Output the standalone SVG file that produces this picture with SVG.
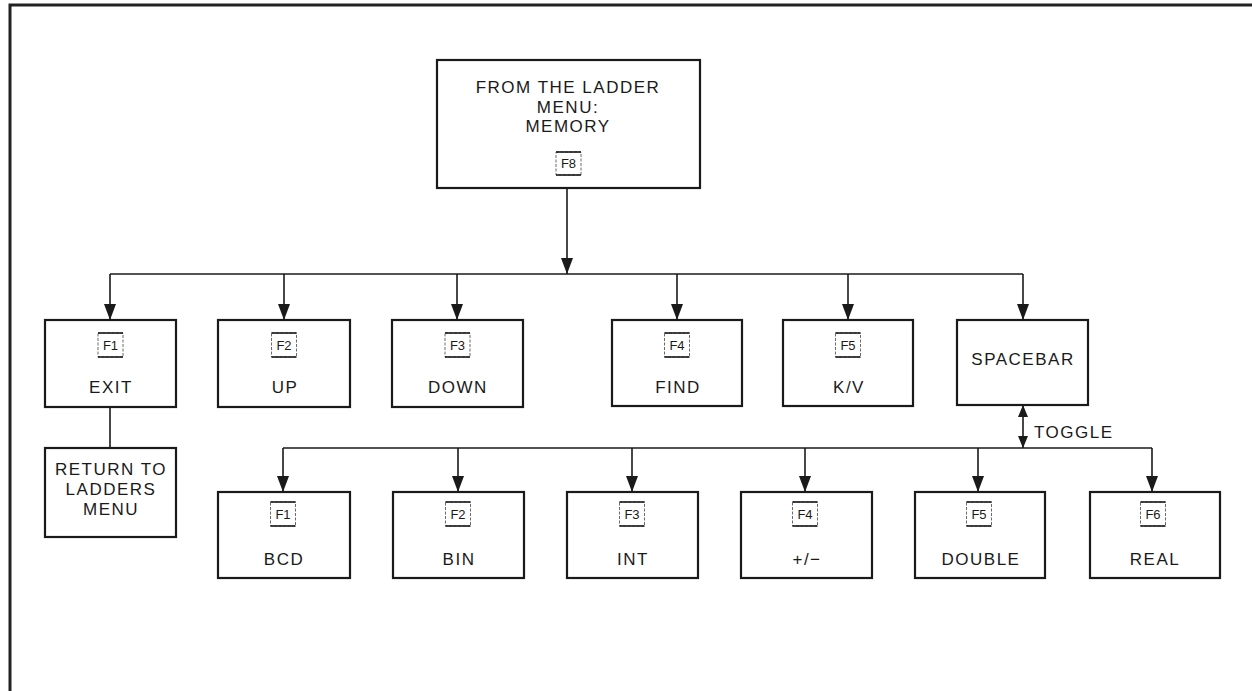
<svg xmlns="http://www.w3.org/2000/svg" width="1252" height="691" viewBox="0 0 1252 691">
<defs>
<style>
.box{fill:#fff;stroke:#1a1a1a;stroke-width:2.2}
.key{fill:none;stroke:#444;stroke-width:0.8;stroke-dasharray:3 1.5}
.keyl{stroke:#1a1a1a;stroke-width:1.6}
.t{font-family:"Liberation Sans",Arial,sans-serif;font-size:17px;letter-spacing:1.5px;fill:#1a1a1a;text-anchor:middle}
.k{font-family:"Liberation Sans",Arial,sans-serif;font-size:13px;fill:#1a1a1a;text-anchor:middle}
.c{fill:none;stroke:#1a1a1a;stroke-width:1.6}
</style>
<marker id="ah" viewBox="0 0 16 12" refX="16" refY="6" markerWidth="16" markerHeight="13" markerUnits="userSpaceOnUse" orient="auto">
<path d="M0,0 L16,6 L0,12 z" fill="#1a1a1a"/>
</marker>
<marker id="as" viewBox="0 0 12 10" refX="12" refY="5" markerWidth="12" markerHeight="10" markerUnits="userSpaceOnUse" orient="auto-start-reverse">
<path d="M0,0 L12,5 L0,10 z" fill="#1a1a1a"/>
</marker>
</defs>
<rect width="1252" height="691" fill="#fff"/>
<path d="M1252,5 H10 V691" fill="none" stroke="#222" stroke-width="3"/>

<g id="connectors">
<line class="c" x1="567" y1="188" x2="567" y2="274" marker-end="url(#ah)"/>
<line class="c" x1="110" y1="274" x2="1023" y2="274"/>
<line class="c" x1="110" y1="274" x2="110" y2="320" marker-end="url(#ah)"/>
<line class="c" x1="284" y1="274" x2="284" y2="320" marker-end="url(#ah)"/>
<line class="c" x1="457" y1="274" x2="457" y2="320" marker-end="url(#ah)"/>
<line class="c" x1="677" y1="274" x2="677" y2="320" marker-end="url(#ah)"/>
<line class="c" x1="848" y1="274" x2="848" y2="320" marker-end="url(#ah)"/>
<line class="c" x1="1023" y1="274" x2="1023" y2="320" marker-end="url(#ah)"/>
<line class="c" x1="110" y1="407" x2="110" y2="448"/>
<line class="c" x1="1023" y1="405" x2="1023" y2="448" marker-start="url(#as)" marker-end="url(#as)"/>
<line class="c" x1="283" y1="448" x2="1152" y2="448"/>
<line class="c" x1="283" y1="448" x2="283" y2="492" marker-end="url(#ah)"/>
<line class="c" x1="458" y1="448" x2="458" y2="492" marker-end="url(#ah)"/>
<line class="c" x1="632" y1="448" x2="632" y2="492" marker-end="url(#ah)"/>
<line class="c" x1="805" y1="448" x2="805" y2="492" marker-end="url(#ah)"/>
<line class="c" x1="978" y1="448" x2="978" y2="492" marker-end="url(#ah)"/>
<line class="c" x1="1152" y1="448" x2="1152" y2="492" marker-end="url(#ah)"/>
<text class="t" x="1034" y="438" style="text-anchor:start">TOGGLE</text>
</g>

<g id="memory">
<rect class="box" x="437" y="60" width="263" height="128"/>
<text class="t" x="568" y="93">FROM THE LADDER</text>
<text class="t" x="568" y="113">MENU:</text>
<text class="t" x="568" y="132">MEMORY</text>
<rect class="key" x="556" y="152" width="25" height="23"/>
<line class="keyl" x1="556" y1="152" x2="581" y2="152"/><line class="keyl" x1="556" y1="175" x2="581" y2="175"/>
<text class="k" x="568.5" y="168">F8</text>
</g>

<g id="exit">
<rect class="box" x="45" y="320" width="131" height="87"/>
<rect class="key" x="98" y="333" width="25" height="24"/>
<line class="keyl" x1="98" y1="333" x2="123" y2="333"/><line class="keyl" x1="98" y1="357" x2="123" y2="357"/>
<text class="k" x="110.5" y="350">F1</text>
<text class="t" x="111" y="393">EXIT</text>
</g>

<g id="return">
<rect class="box" x="45" y="448" width="131" height="89"/>
<text class="t" x="111" y="475">RETURN TO</text>
<text class="t" x="111" y="495">LADDERS</text>
<text class="t" x="111" y="515">MENU</text>
</g>

<g id="up">
<rect class="box" x="218" y="320" width="132" height="87"/>
<rect class="key" x="271.5" y="333" width="25" height="24"/>
<line class="keyl" x1="271.5" y1="333" x2="296.5" y2="333"/><line class="keyl" x1="271.5" y1="357" x2="296.5" y2="357"/>
<text class="k" x="284" y="350">F2</text>
<text class="t" x="285" y="393">UP</text>
</g>

<g id="down">
<rect class="box" x="392" y="320" width="131" height="87"/>
<rect class="key" x="445" y="333" width="25" height="24"/>
<line class="keyl" x1="445" y1="333" x2="470" y2="333"/><line class="keyl" x1="445" y1="357" x2="470" y2="357"/>
<text class="k" x="457.5" y="350">F3</text>
<text class="t" x="458" y="393">DOWN</text>
</g>

<g id="find">
<rect class="box" x="612" y="320" width="130" height="86"/>
<rect class="key" x="664.5" y="333" width="25" height="24"/>
<line class="keyl" x1="664.5" y1="333" x2="689.5" y2="333"/><line class="keyl" x1="664.5" y1="357" x2="689.5" y2="357"/>
<text class="k" x="677" y="350">F4</text>
<text class="t" x="678" y="393">FIND</text>
</g>

<g id="kv">
<rect class="box" x="783" y="320" width="130" height="86"/>
<rect class="key" x="835.5" y="333" width="25" height="24"/>
<line class="keyl" x1="835.5" y1="333" x2="860.5" y2="333"/><line class="keyl" x1="835.5" y1="357" x2="860.5" y2="357"/>
<text class="k" x="848" y="350">F5</text>
<text class="t" x="849" y="393">K/V</text>
</g>

<g id="spacebar">
<rect class="box" x="957" y="320" width="131" height="85"/>
<text class="t" x="1023" y="365">SPACEBAR</text>
</g>

<g id="bcd">
<rect class="box" x="218" y="492" width="132" height="86"/>
<rect class="key" x="270.5" y="502" width="25" height="24"/>
<line class="keyl" x1="270.5" y1="502" x2="295.5" y2="502"/><line class="keyl" x1="270.5" y1="526" x2="295.5" y2="526"/>
<text class="k" x="283" y="519">F1</text>
<text class="t" x="284" y="565">BCD</text>
</g>

<g id="bin">
<rect class="box" x="393" y="492" width="131" height="86"/>
<rect class="key" x="445.5" y="502" width="25" height="24"/>
<line class="keyl" x1="445.5" y1="502" x2="470.5" y2="502"/><line class="keyl" x1="445.5" y1="526" x2="470.5" y2="526"/>
<text class="k" x="458" y="519">F2</text>
<text class="t" x="459" y="565">BIN</text>
</g>

<g id="int">
<rect class="box" x="567" y="492" width="131" height="86"/>
<rect class="key" x="619.5" y="502" width="25" height="24"/>
<line class="keyl" x1="619.5" y1="502" x2="644.5" y2="502"/><line class="keyl" x1="619.5" y1="526" x2="644.5" y2="526"/>
<text class="k" x="632" y="519">F3</text>
<text class="t" x="633" y="565">INT</text>
</g>

<g id="sign">
<rect class="box" x="741" y="492" width="131" height="86"/>
<rect class="key" x="792.5" y="502" width="25" height="24"/>
<line class="keyl" x1="792.5" y1="502" x2="817.5" y2="502"/><line class="keyl" x1="792.5" y1="526" x2="817.5" y2="526"/>
<text class="k" x="805" y="519">F4</text>
<text class="t" x="807" y="565">+/−</text>
</g>

<g id="double">
<rect class="box" x="915" y="492" width="130" height="86"/>
<rect class="key" x="966.5" y="502" width="25" height="24"/>
<line class="keyl" x1="966.5" y1="502" x2="991.5" y2="502"/><line class="keyl" x1="966.5" y1="526" x2="991.5" y2="526"/>
<text class="k" x="979" y="519">F5</text>
<text class="t" x="981" y="565">DOUBLE</text>
</g>

<g id="real">
<rect class="box" x="1090" y="492" width="130" height="86"/>
<rect class="key" x="1140.5" y="502" width="25" height="24"/>
<line class="keyl" x1="1140.5" y1="502" x2="1165.5" y2="502"/><line class="keyl" x1="1140.5" y1="526" x2="1165.5" y2="526"/>
<text class="k" x="1153" y="519">F6</text>
<text class="t" x="1155" y="565">REAL</text>
</g>
</svg>
